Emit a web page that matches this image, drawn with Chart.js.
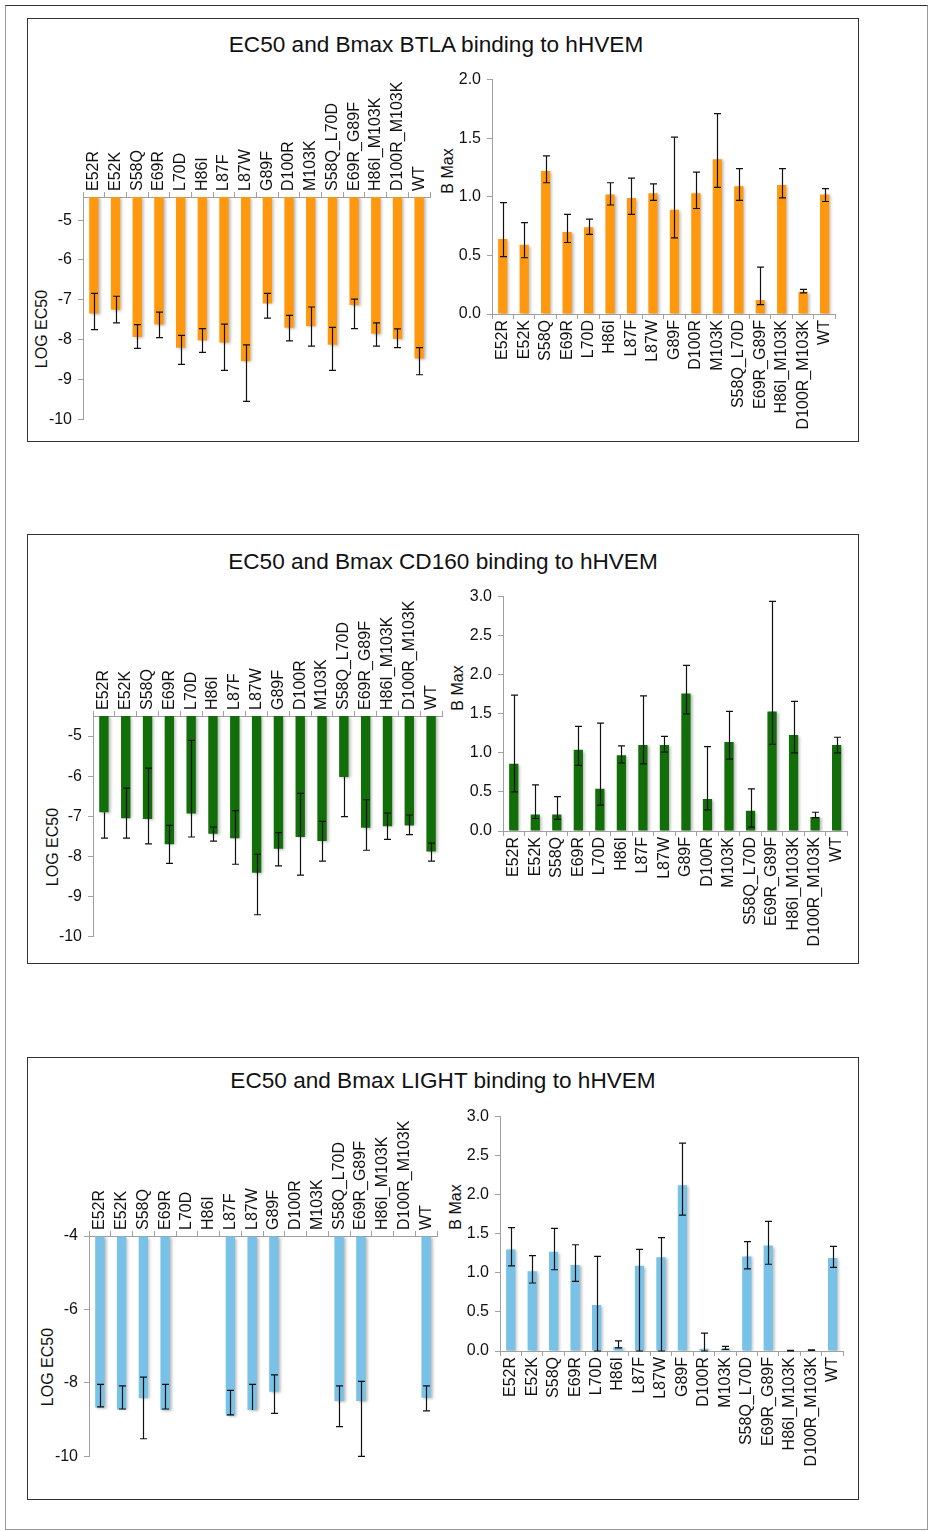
<!DOCTYPE html>
<html>
<head>
<meta charset="utf-8">
<script src="https://cdn.jsdelivr.net/npm/chart.js@4.4.1/dist/chart.umd.min.js"></script>
<style>
  html, body { margin: 0; padding: 0; background: #fff; }
  body { width: 929px; height: 1531px; position: relative; overflow: hidden;
         font-family: "Liberation Sans", Arial, sans-serif; }
  .frame { position: absolute; left: 5px; top: 5px; width: 923px; height: 1525px;
           border: 1px solid #999; border-top-color: #333; box-sizing: border-box; }
  .panel { position: absolute; left: 27px; width: 832px; border: 1px solid #333; box-sizing: border-box; }
  .title { position: absolute; left: 27px; width: 832px; text-align: center;
           font-size: 22.6px; color: #111; line-height: 26px; }
  .ytitle { position: absolute; font-size: 16px; color: #111; white-space: nowrap; line-height: 18px;
            transform: translate(-50%, -50%) rotate(-90deg); }
  canvas { position: absolute; }
</style>
</head>
<body>
<div class="frame"></div>

<div class="panel" style="top:18px;height:424px"></div>
<div class="panel" style="top:534px;height:430px"></div>
<div class="panel" style="top:1057px;height:443px"></div>

<div class="title" style="top:32px;left:20px">EC50 and Bmax BTLA binding to hHVEM</div>
<div class="title" style="top:549px">EC50 and Bmax CD160 binding to hHVEM</div>
<div class="title" style="top:1068px">EC50 and Bmax LIGHT binding to hHVEM</div>

<div class="ytitle" style="left:42px;top:329px">LOG EC50</div>
<div class="ytitle" style="left:448px;top:171px">B Max</div>
<div class="ytitle" style="left:53px;top:847px">LOG EC50</div>
<div class="ytitle" style="left:458px;top:688px">B Max</div>
<div class="ytitle" style="left:48px;top:1367px">LOG EC50</div>
<div class="ytitle" style="left:456px;top:1207px">B Max</div>

<canvas id="btlaEc50"></canvas>
<canvas id="btlaBmax"></canvas>
<canvas id="cd160Ec50"></canvas>
<canvas id="cd160Bmax"></canvas>
<canvas id="lightEc50"></canvas>
<canvas id="lightBmax"></canvas>

<script>
// HVEM mutants tested against each ligand
const mutants = ['E52R', 'E52K', 'S58Q', 'E69R', 'L70D', 'H86I', 'L87F', 'L87W', 'G89F',
                 'D100R', 'M103K', 'S58Q_L70D', 'E69R_G89F', 'H86I_M103K', 'D100R_M103K', 'WT'];

// BTLA: log EC50 (mean, upper and lower error limits)
const btlaEc50   = [-7.34, -7.25, -7.93, -7.62, -8.20, -8.02, -8.07, -8.54, -7.09, -7.70, -7.66, -8.13, -7.13, -7.85, -7.98, -8.47];
const btlaEc50Hi = [-6.84, -6.91, -7.62, -7.31, -7.89, -7.72, -7.61, -8.13, -6.84, -7.39, -7.18, -7.69, -6.98, -7.58, -7.73, -8.20];
const btlaEc50Lo = [-7.75, -7.58, -8.22, -7.95, -8.62, -8.32, -8.77, -9.55, -7.46, -8.03, -8.16, -8.77, -7.72, -8.16, -8.20, -8.88];
// BTLA: Bmax
const btlaBmax   = [0.64, 0.59, 1.22, 0.70, 0.74, 1.02, 0.99, 1.03, 0.89, 1.03, 1.32, 1.09, 0.12, 1.10, 0.19, 1.02];
const btlaBmaxHi = [0.95, 0.78, 1.35, 0.85, 0.81, 1.12, 1.16, 1.11, 1.51, 1.21, 1.71, 1.24, 0.40, 1.24, 0.21, 1.07];
const btlaBmaxLo = [0.49, 0.48, 1.12, 0.61, 0.68, 0.93, 0.85, 0.97, 0.65, 0.90, 1.08, 0.97, 0.08, 0.99, 0.18, 0.96];

// CD160: log EC50
const cd160Ec50   = [-6.90, -7.05, -7.07, -7.70, -6.93, -7.44, -7.55, -8.41, -7.81, -7.52, -7.62, -6.02, -7.29, -7.25, -7.23, -7.88];
const cd160Ec50Hi = [-6.90, -6.30, -5.80, -7.23, -5.11, -7.27, -6.86, -7.95, -7.41, -6.43, -7.13, -6.02, -6.59, -6.92, -6.97, -7.67];
const cd160Ec50Lo = [-7.55, -7.55, -7.69, -8.18, -7.52, -7.62, -8.20, -9.46, -8.24, -8.47, -8.12, -7.01, -7.85, -7.58, -7.46, -8.12];
// CD160: Bmax
const cd160Bmax   = [0.86, 0.21, 0.21, 1.04, 0.54, 0.97, 1.10, 1.10, 1.76, 0.41, 1.14, 0.26, 1.53, 1.23, 0.18, 1.10];
const cd160BmaxHi = [1.74, 0.59, 0.44, 1.34, 1.38, 1.09, 1.73, 1.21, 2.12, 1.08, 1.53, 0.54, 2.94, 1.66, 0.24, 1.20];
const cd160BmaxLo = [0.50, 0.16, 0.15, 0.84, 0.33, 0.87, 0.86, 1.01, 1.50, 0.27, 0.92, 0.05, 1.11, 1.00, 0.17, 1.00];

// LIGHT: log EC50 (no binding fit for the null entries)
const lightEc50   = [-8.67, -8.72, -8.42, -8.74, null, null, -8.89, -8.74, -8.24, null, null, -8.49, -8.49, null, null, -8.40];
const lightEc50Hi = [-8.04, -8.08, -7.84, -8.04, null, null, -8.20, -8.04, -7.78, null, null, -8.08, -7.96, null, null, -8.08];
const lightEc50Lo = [-8.65, -8.71, -9.52, -8.71, null, null, -8.87, -8.74, -8.83, null, null, -9.19, -10.0, null, null, -8.76];
// LIGHT: Bmax
const lightBmax   = [1.30, 1.02, 1.27, 1.10, 0.59, 0.05, 1.09, 1.20, 2.12, 0.03, 0.03, 1.21, 1.35, 0.005, 0.012, 1.19];
const lightBmaxHi = [1.58, 1.22, 1.57, 1.36, 1.21, 0.13, 1.30, 1.45, 2.66, 0.23, 0.06, 1.40, 1.66, 0.008, 0.016, 1.34];
const lightBmaxLo = [1.09, 0.87, 1.04, 0.89, 0.00, 0.04, 0.00, 0.00, 1.74, 0.00, 0.02, 1.05, 1.11, 0.002, 0.008, 1.07];

// Axis tick values
const btlaEc50Ticks  = [-10, -9, -8, -7, -6, -5];
const cd160Ec50Ticks = [-10, -9, -8, -7, -6, -5];
const lightEc50Ticks = [-10, -8, -6, -4];
const btlaBmaxTicks  = [0, 0.5, 1.0, 1.5, 2.0];
const bmaxTicks3     = [0, 0.5, 1.0, 1.5, 2.0, 2.5, 3.0];

const ORANGE = '#FF980E';
const GREEN  = '#116E08';
const BLUE   = '#78C1E7';
const AXIS   = '#a0a0a0';
const TEXT   = '#111';
const FONT   = { family: '"Liberation Sans", Arial, sans-serif', size: 16, lineHeight: 1.2 };
const LINE_H = FONT.size * FONT.lineHeight;

// soft drop shadow under the bars
const barShadow = {
  id: 'barShadow',
  beforeDatasetDraw(chart) {
    const c = chart.ctx;
    c.save();
    c.shadowColor = 'rgba(0,0,0,0.28)';
    c.shadowBlur = 3;
    c.shadowOffsetX = 2;
    c.shadowOffsetY = 1;
  },
  afterDatasetDraw(chart) { chart.ctx.restore(); }
};

// vertical error bars with caps, from explicit upper/lower limits
const errorBars = {
  id: 'errorBars',
  afterDatasetsDraw(chart, args, opts) {
    const { ctx, chartArea } = chart;
    const ys = chart.scales.y;
    const meta = chart.getDatasetMeta(0);
    const vals = chart.data.datasets[0].data;
    ctx.save();
    ctx.beginPath();
    ctx.rect(chartArea.left, chartArea.top - 1, chartArea.right - chartArea.left, chartArea.bottom - chartArea.top + 2);
    ctx.clip();
    ctx.strokeStyle = '#111';
    ctx.lineWidth = 1.2;
    meta.data.forEach((bar, i) => {
      const hi = opts.high[i], lo = opts.low[i], v = vals[i];
      if (hi == null || lo == null) return;
      const x = Math.round(bar.x) + 0.5;
      const yh = ys.getPixelForValue(hi), yl = ys.getPixelForValue(lo);
      ctx.beginPath();
      ctx.moveTo(x, yh); ctx.lineTo(x, yl);
      if (hi !== v) { ctx.moveTo(x - 3.5, yh); ctx.lineTo(x + 3.5, yh); }
      if (lo !== v) { ctx.moveTo(x - 3.5, yl); ctx.lineTo(x + 3.5, yl); }
      ctx.stroke();
    });
    ctx.restore();
  }
};

// area: pixel box of the plotting area on the page
function drawPanel(id, area, cfg) {
  const yW = 70;                       // room for value labels
  const xH = 160;                      // room for rotated category labels
  const edge = 14;
  const top = cfg.topAxis;
  const cv = document.getElementById(id);
  const left = area.l - yW;
  const w = area.r - area.l + yW + 6;
  const h = area.b - area.t + xH + edge;
  const t = top ? area.t - xH : area.t - edge;
  cv.style.left = left + 'px';
  cv.style.top = t + 'px';
  cv.width = w; cv.height = h;

  const dataset = {
    data: cfg.values,
    backgroundColor: cfg.color,
    borderWidth: 0,
    categoryPercentage: 1.0,
    barPercentage: 0.43
  };
  if (top) dataset.base = cfg.max;

  new Chart(cv, {
    type: 'bar',
    data: { labels: mutants, datasets: [dataset] },
    options: {
      responsive: false,
      animation: false,
      devicePixelRatio: 1,
      layout: { padding: { left: 0, right: 6, top: top ? 0 : edge, bottom: top ? edge : 0 } },
      plugins: {
        legend: { display: false },
        tooltip: { enabled: false },
        errorBars: { high: cfg.high, low: cfg.low }
      },
      scales: {
        x: {
          type: 'category',
          position: top ? 'top' : 'bottom',
          offset: true,
          grid: { offset: true, drawOnChartArea: false, drawTicks: true, tickLength: 5, color: AXIS },
          border: { display: true, color: AXIS, width: 1 },
          ticks: { autoSkip: false, minRotation: 90, maxRotation: 90, font: FONT, color: TEXT,
                   padding: 1, labelOffset: top ? LINE_H : 0 },
          afterFit(s) { s.height = xH; }
        },
        y: {
          position: 'left',
          min: cfg.min,
          max: cfg.max,
          grid: { drawOnChartArea: false, drawTicks: true, tickLength: 5, color: AXIS },
          border: { display: true, color: AXIS, width: 1 },
          ticks: { font: FONT, color: TEXT, padding: 6, callback: cfg.fmt },
          afterBuildTicks(s) { s.ticks = cfg.ticks.map(v => ({ value: v })); },
          afterFit(s) { s.width = yW; }
        }
      }
    },
    plugins: [barShadow, errorBars]
  });
}

const intFmt = v => String(v);
const decFmt = v => Number(v).toFixed(1);

drawPanel('btlaEc50', { l: 83, t: 197, r: 430, b: 421 }, {
  topAxis: true, values: btlaEc50, high: btlaEc50Hi, low: btlaEc50Lo, color: ORANGE,
  min: -10, max: -4.42, ticks: btlaEc50Ticks, fmt: intFmt });
drawPanel('btlaBmax', { l: 492, t: 78, r: 839, b: 314 }, {
  topAxis: false, values: btlaBmax, high: btlaBmaxHi, low: btlaBmaxLo, color: ORANGE,
  min: 0, max: 2, ticks: btlaBmaxTicks, fmt: decFmt });

drawPanel('cd160Ec50', { l: 93, t: 716, r: 442, b: 938 }, {
  topAxis: true, values: cd160Ec50, high: cd160Ec50Hi, low: cd160Ec50Lo, color: GREEN,
  min: -10, max: -4.5, ticks: cd160Ec50Ticks, fmt: intFmt });
drawPanel('cd160Bmax', { l: 503, t: 595, r: 851, b: 831 }, {
  topAxis: false, values: cd160Bmax, high: cd160BmaxHi, low: cd160BmaxLo, color: GREEN,
  min: 0, max: 3, ticks: bmaxTicks3, fmt: decFmt });

drawPanel('lightEc50', { l: 89, t: 1236, r: 437, b: 1458 }, {
  topAxis: true, values: lightEc50, high: lightEc50Hi, low: lightEc50Lo, color: BLUE,
  min: -10, max: -4, ticks: lightEc50Ticks, fmt: intFmt });
drawPanel('lightBmax', { l: 500, t: 1115, r: 847, b: 1351 }, {
  topAxis: false, values: lightBmax, high: lightBmaxHi, low: lightBmaxLo, color: BLUE,
  min: 0, max: 3, ticks: bmaxTicks3, fmt: decFmt });
</script>
</body>
</html>
